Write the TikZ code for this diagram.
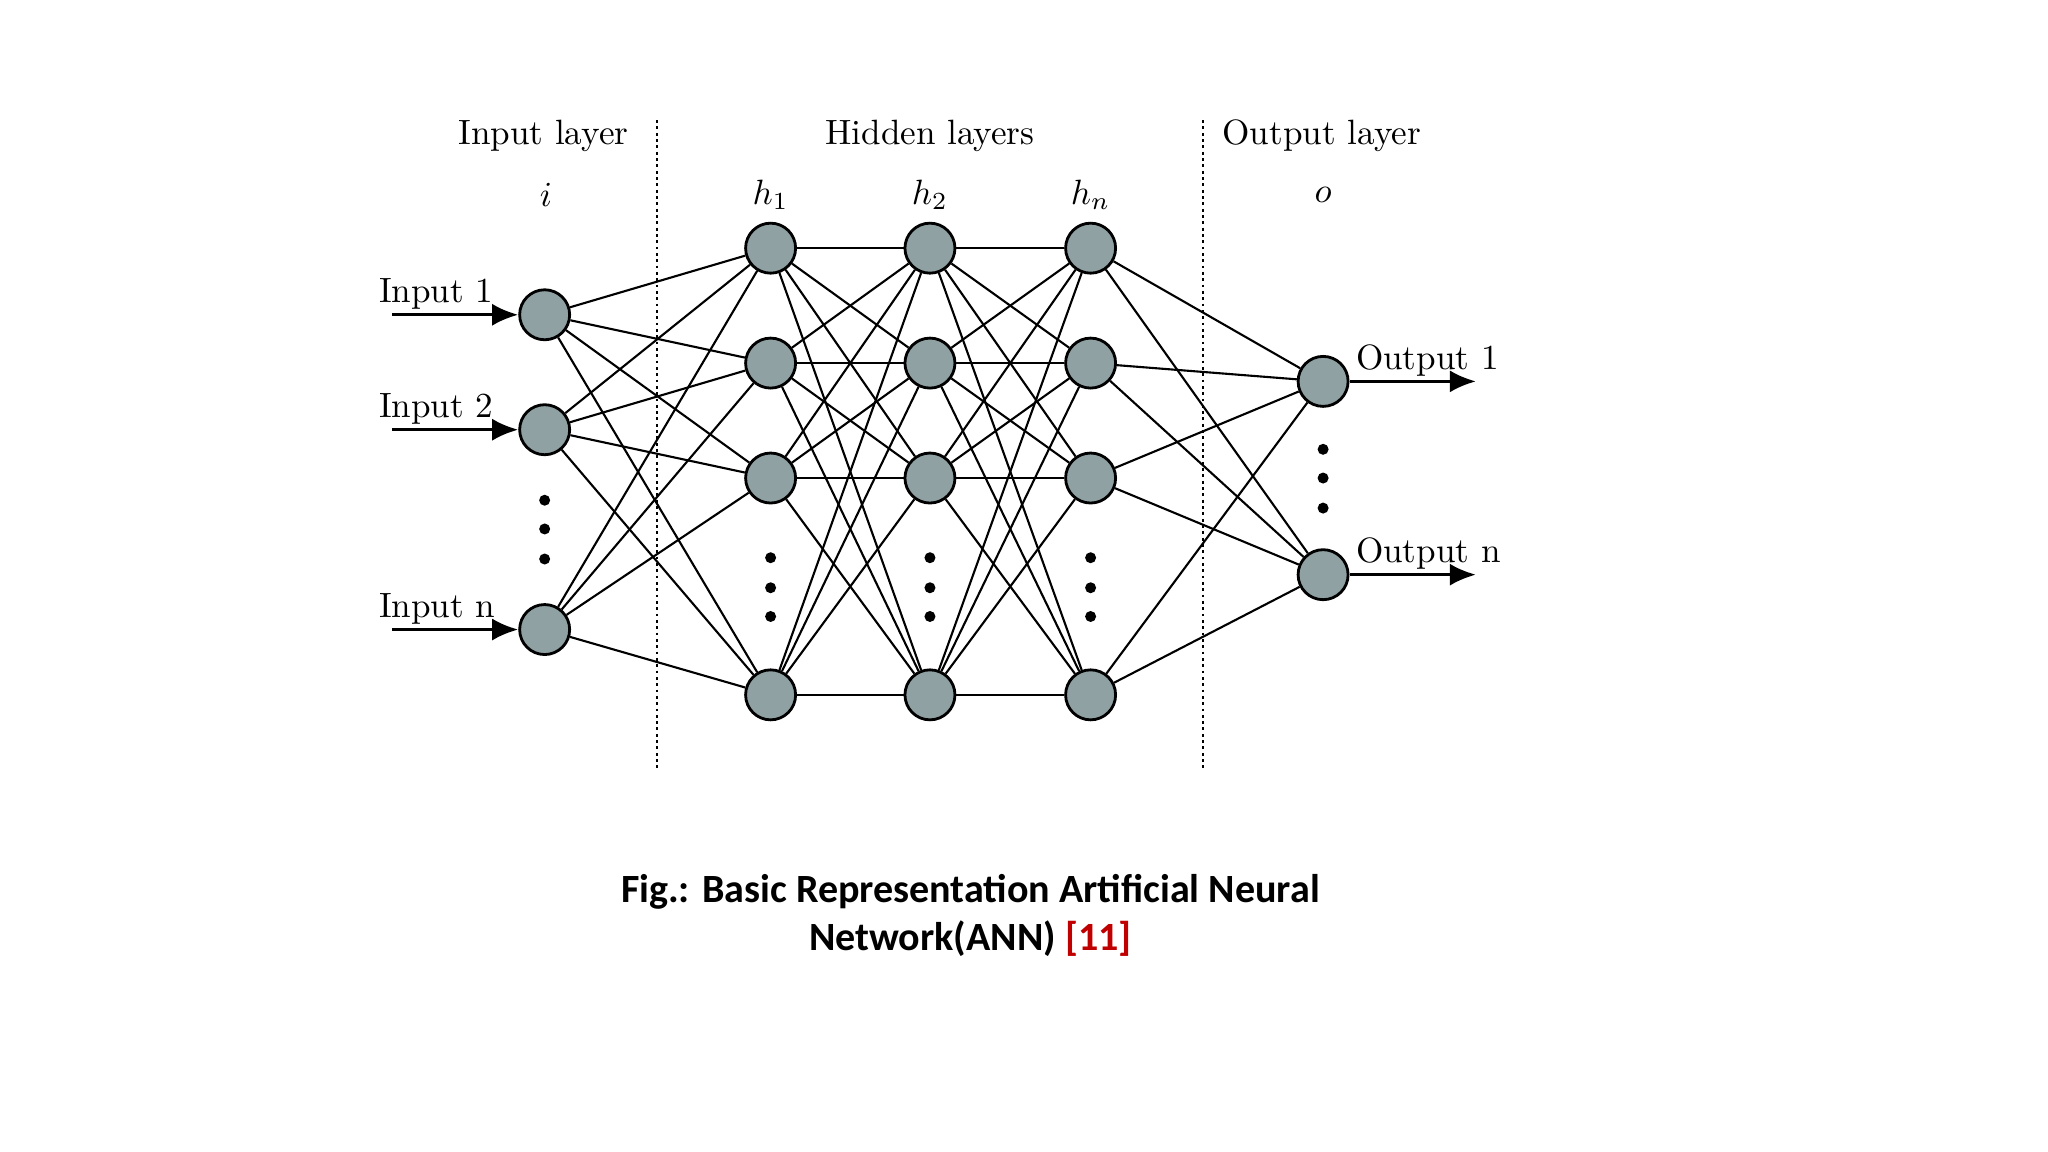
\documentclass[tikz,border=0pt]{standalone}
\usepackage{fontspec}
\newfontfamily\capfont{Carlito}
\usetikzlibrary{arrows.meta}
\definecolor{nodegray}{HTML}{8FA1A3}
\definecolor{refred}{HTML}{C00000}
\begin{document}
\begin{tikzpicture}[x=0.013061cm,y=-0.013061cm,
  neuron/.style={circle,draw=black,thick,fill=nodegray,minimum size=0.5cm,inner sep=0pt},
  edge/.style={black,line width=0.6pt},
  lbl/.style={font=\fontsize{10}{12}\selectfont},
  arr/.style={line width=0.9pt,-{Latex[length=2.6mm,width=2.2mm]}},
  dot/.style={circle,fill=black,inner sep=0pt,minimum size=1.1mm}]
\useasboundingbox (0,0) rectangle (1568,882);
% dotted separators
\draw[densely dotted,thick] (503,92) -- (503,590);
\draw[densely dotted,thick] (921,92) -- (921,590);
% headings
\node[lbl] (hi) at (416,104) {Input layer};
\node[lbl] (hh) at (712,104) {Hidden layers};
\node[lbl] (ho) at (1012,104) {Output layer};
\node[lbl] (li) at (418,149) {$i$};
\node[lbl] (l1) at (590,149) {$h_1$};
\node[lbl] (l2) at (712,149) {$h_2$};
\node[lbl] (ln) at (835,149) {$h_n$};
\node[lbl] (lo) at (1013,149) {$o$};
% neurons
\foreach \n/\y in {1/241,2/329,3/482} \node[neuron] (i\n) at (417,\y) {};
\foreach \c/\x in {a/590,b/712,c/835}
  \foreach \n/\y in {1/190,2/278,3/366,4/532} \node[neuron] (\c\n) at (\x,\y) {};
\foreach \n/\y in {1/292,2/440} \node[neuron] (o\n) at (1013,\y) {};
% edges
\foreach \s in {1,2,3} \foreach \t in {1,2,3,4} \draw[edge] (i\s) -- (a\t);
\foreach \s in {1,2,3,4} \foreach \t in {1,2,3,4} {\draw[edge] (a\s) -- (b\t); \draw[edge] (b\s) -- (c\t);}
\foreach \s in {1,2,3,4} \foreach \t in {1,2} \draw[edge] (c\s) -- (o\t);
% dots
\foreach \y [count=\k] in {383,405,428} \node[dot] (di\k) at (417,\y) {};
\foreach \c/\x in {a/590,b/712,c/835}
  \foreach \y [count=\k] in {427,450,472} \node[dot] (d\c\k) at (\x,\y) {};
\foreach \y [count=\k] in {344,366,389} \node[dot] (do\k) at (1013,\y) {};
% inputs
\foreach \n/\y/\t in {1/241/Input 1,2/329/Input 2,3/482/Input n}{
  \coordinate (s\n) at (300,\y);
  \draw[arr] (s\n) -- (i\n.west);
  \node[lbl,anchor=south west,inner sep=1pt] (t\n) at (287,\y-1) {\t};
}
% outputs
\foreach \n/\y/\t in {1/292/Output 1,2/440/Output n}{
  \coordinate (e\n) at (1130,\y);
  \draw[arr] (o\n.east) -- (e\n);
  \node[lbl,anchor=south west,inner sep=1pt] (u\n) at (1035,\y-1) {\t};
}
% caption
\node[font=\capfont\bfseries\fontsize{11.4}{13.6}\selectfont,align=center] (cap) at (743,701)
  {Fig.: Basic Representation Artificial Neural\\Network(ANN) \textcolor{refred}{[11]}};
\end{tikzpicture}
\end{document}
